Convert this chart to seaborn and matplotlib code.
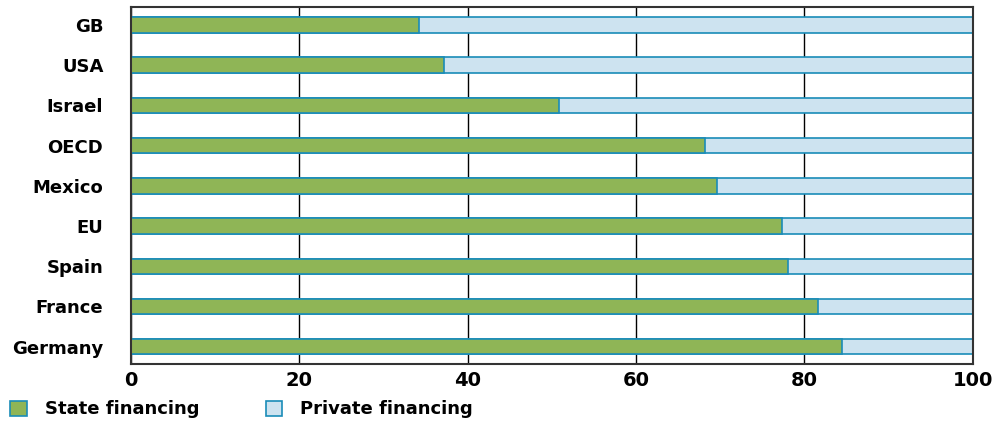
import matplotlib
matplotlib.use("Agg")
import matplotlib.pyplot as plt
import seaborn as sns
import pandas as pd
from matplotlib.patches import Patch

countries = ["GB", "USA", "Israel", "OECD", "Mexico", "EU", "Spain", "France", "Germany"]
state = [34.2, 37.2, 50.8, 68.2, 69.6, 77.4, 78.1, 81.6, 84.5]
private = [100 - v for v in state]
x_ticks = [0, 20, 40, 60, 80, 100]

df = pd.DataFrame({"country": countries, "state": state,
                   "total": [s + p for s, p in zip(state, private)]})

sns.set_theme(style="white")
plt.rcParams['font.family'] = ['DejaVu Sans']
plt.rcParams['text.color'] = 'black'
plt.rcParams['xtick.color'] = 'black'
plt.rcParams['ytick.color'] = 'black'

GREEN = "#8fb556"
LIGHT = "#cde3f0"
EDGE = "#1a8cb8"

fig = plt.figure(figsize=(9.98, 4.22), dpi=100)
ax = fig.add_axes([0.1313, 0.1374, 0.9746 - 0.1313, 0.984 - 0.1374])

sns.barplot(data=df, y="country", x="total", orient="h", color=LIGHT,
            edgecolor=EDGE, linewidth=1.2, width=0.385, ax=ax, saturation=1)
sns.barplot(data=df, y="country", x="state", orient="h", color=GREEN,
            edgecolor=EDGE, linewidth=1.2, width=0.385, ax=ax, saturation=1)

ax.set_xlim(0, 100)
ax.set_ylim(8.43, -0.45)
ax.set_xticks(x_ticks)
ax.set_xticklabels([str(t) for t in x_ticks], fontsize=14, fontweight="bold", color="black")
ax.set_yticklabels(countries, fontsize=13, fontweight="bold", color="black")
ax.set_xlabel("")
ax.set_ylabel("")
ax.set_axisbelow(True)
ax.grid(axis="x", color="black", linewidth=1.0)
ax.grid(axis="y", visible=False)
ax.tick_params(axis="both", length=0, colors="black")
ax.tick_params(axis="x", pad=5)
ax.tick_params(axis="y", pad=20)
for s in ax.spines.values():
    s.set_color("#333333")
    s.set_linewidth(1.5)

handles = [Patch(facecolor=GREEN, edgecolor=EDGE, linewidth=1.2, label="State financing"),
           Patch(facecolor=LIGHT, edgecolor=EDGE, linewidth=1.2, label="Private financing")]
leg = fig.legend(handles=handles, loc="lower left", bbox_to_anchor=(-0.006, -0.03),
                 ncol=2, frameon=False, prop={"weight": "bold", "size": 13},
                 handlelength=0.9, handleheight=0.9, handletextpad=1.0,
                 columnspacing=3.7, labelcolor="black")

fig.savefig("out.png", dpi=100)
